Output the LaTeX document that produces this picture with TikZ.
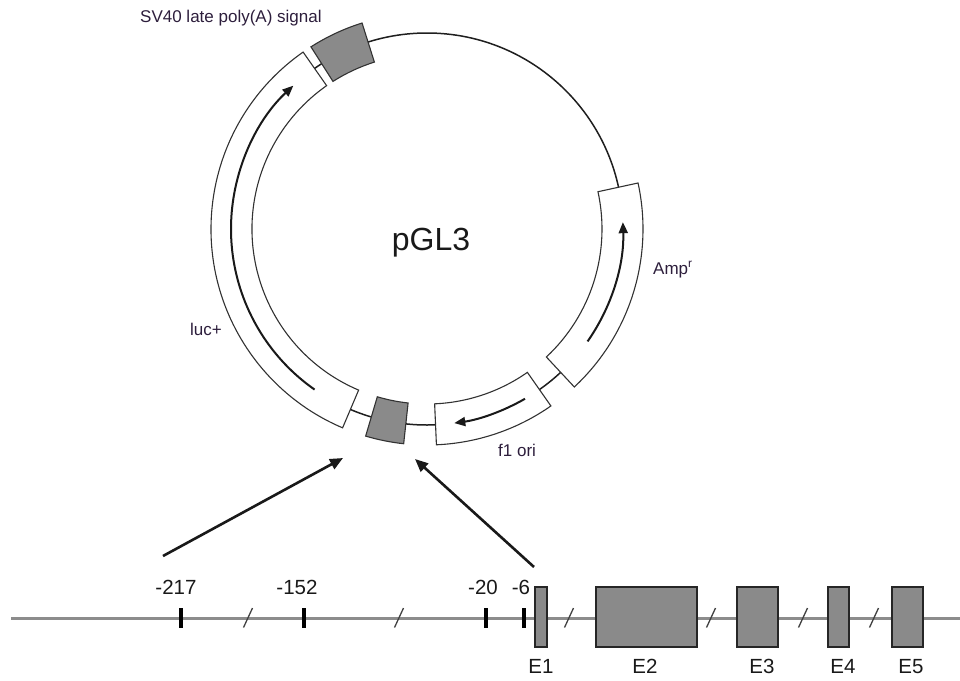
\documentclass[tikz,border=0pt]{standalone}
\usepackage{fontspec}
\setmainfont{Liberation Sans}
\usetikzlibrary{arrows.meta}
\definecolor{labcol}{RGB}{45,30,60}
\definecolor{txtcol}{RGB}{25,25,25}
\definecolor{boxgray}{RGB}{138,138,138}
\definecolor{linegray}{RGB}{140,140,140}
\definecolor{edgecol}{RGB}{50,50,50}
\newcommand\plsector[3]{%
  \draw[#1] ([shift={(C)}]#2:175) -- ([shift={(C)}]#2:216)
    arc[start angle=#2,end angle=#3,radius=216]
    -- ([shift={(C)}]#3:175)
    arc[start angle=#3,end angle=#2,radius=175] -- cycle;}
\tikzset{
  featbox/.style={draw=edgecol,line width=1.1pt,fill=white},
  graybox/.style={draw=edgecol,line width=1.1pt,fill=boxgray},
  featarrow/.style={line width=2pt,draw=black!90,-{Triangle[length=11pt,width=9pt]}},
  linkarrow/.style={line width=2.6pt,draw=black!90,-{Triangle[length=13pt,width=11pt]}},
  featlabel/.style={text=labcol,font=\fontsize{17}{20}\selectfont,inner sep=0pt},
  scalelabel/.style={text=txtcol,font=\fontsize{20.5}{24}\selectfont,inner sep=0pt,anchor=base},
  exonbox/.style={draw=black!85,line width=1.5pt,fill=boxgray},
  tickmark/.style={line width=3.5pt,draw=black},
  breakmark/.style={line width=1.3pt,draw=black!75},
}
\begin{document}
\begin{tikzpicture}[x=1pt,y=1pt]
\useasboundingbox (0,0) rectangle (960,-680);
% plasmid backbone
\coordinate (C) at (427,-229);
\draw[line width=1.5pt,draw=black!88] (C) circle[radius=196];
% features
\plsector{featbox}{125}{247}
\plsector{graybox}{107.5}{122.5}
\plsector{graybox}{253.5}{263.8}
\plsector{featbox}{272.5}{305}
\plsector{featbox}{-47}{12.3}
% direction arrows
\draw[featarrow] ([shift={(C)}]235:196) arc[start angle=235,end angle=133,radius=196];
\draw[featarrow] ([shift={(C)}]300:196) arc[start angle=300,end angle=278,radius=196];
\draw[featarrow] ([shift={(C)}]-35:196) arc[start angle=-35,end angle=2,radius=196];
% plasmid labels
\node[featlabel,anchor=base west] (sv40) at (140,-22) {SV40 late poly(A) signal};
\node[text=txtcol,font=\fontsize{32}{36}\selectfont,inner sep=0pt,anchor=base] (pgl3) at (431,-250) {pGL3};
\node[featlabel,anchor=base west] (amp) at (653,-274) {Amp\textsuperscript{r}};
\node[featlabel,anchor=base west] (luc) at (190,-335) {luc+};
\node[featlabel,anchor=base west] (f1) at (498,-456) {f1 ori};
% gene line
\coordinate (gl) at (11,-618.5);
\coordinate (gr) at (960,-618.5);
\draw[line width=3.2pt,draw=linegray] (gl) -- (gr);
% ticks
\foreach \tx in {181,304,486,524} \draw[tickmark] (\tx,-608) -- (\tx,-628);
% break marks
\foreach \bx in {248,399,569,711,803,874} \draw[breakmark] (\bx-4.5,-627.5) -- (\bx+4.5,-608);
% exons
\draw[exonbox] (535,-587) rectangle (547,-647);
\draw[exonbox] (596,-587) rectangle (697,-647);
\draw[exonbox] (737,-587) rectangle (778,-647);
\draw[exonbox] (828,-587) rectangle (849,-647);
\draw[exonbox] (892,-587) rectangle (923,-647);
% scale labels
\node[scalelabel] (p217) at (176,-594) {-217};
\node[scalelabel] (p152) at (297,-594) {-152};
\node[scalelabel] (p20) at (483,-594) {-20};
\node[scalelabel] (p6) at (521,-594) {-6};
\node[scalelabel] (le1) at (541,-673) {E1};
\node[scalelabel] (le2) at (645,-673) {E2};
\node[scalelabel] (le3) at (762,-673) {E3};
\node[scalelabel] (le4) at (843,-673) {E4};
\node[scalelabel] (le5) at (911,-673) {E5};
% link arrows
\coordinate (t1) at (163,-556);
\coordinate (h1) at (343,-458);
\coordinate (t2) at (534,-567);
\coordinate (h2) at (415,-459);
\draw[linkarrow] (t1) -- (h1);
\draw[linkarrow] (t2) -- (h2);
\end{tikzpicture}
\end{document}
